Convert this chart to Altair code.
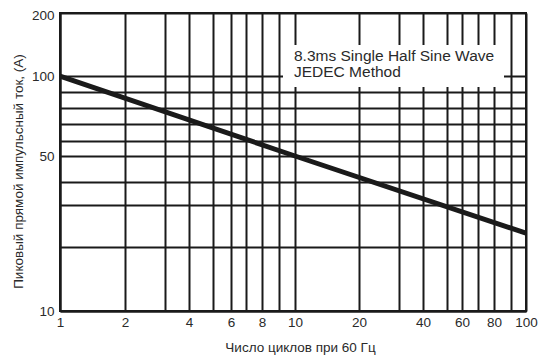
import altair as alt
import pandas as pd

# Data
cycles = [1, 10, 100]
current = [100, 50, 23.3]

# Chart's drawn (non-uniform) scale breakpoints
x_ticks = [1, 2, 3, 4, 5, 6, 7, 8, 9, 10, 20, 30, 40, 50, 60, 70, 80, 90, 100]
x_pos = [0, 65, 105, 129, 153, 171, 186, 202, 219, 235, 299, 339, 363, 387, 402, 418, 434, 451, 466]
x_labels = [1, 2, 4, 6, 8, 10, 20, 40, 60, 80, 100]

y_ticks = [10, 20, 30, 40, 50, 60, 70, 80, 90, 100, 200]
y_pos = [298, 234, 192, 169, 143, 128, 111, 95, 79, 63, 0]
y_labels = [10, 50, 100, 200]

note = ["8.3ms Single Half Sine Wave", "JEDEC Method"]

df = pd.DataFrame({"cycles": cycles, "current": current})
one = pd.DataFrame({"k": [0]})

FONT = "Liberation Sans"
INK = "#1a1a1a"
TXT = "#2a2a2a"
FS = 13.5

x_enc = alt.X(
    "cycles:Q",
    scale=alt.Scale(type="linear", domain=x_ticks, range=x_pos, zero=False, nice=False),
    axis=alt.Axis(
        values=x_ticks,
        labelExpr="indexof(%s, datum.value) >= 0 ? datum.label : ''" % str(x_labels),
        labelOverlap=False,
        labelFlush=False,
        ticks=False,
        labelPadding=4,
        labelFontSize=FS,
        labelColor=TXT,
        labelFont=FONT,
        grid=True,
        gridColor=INK,
        gridWidth=2,
        gridOpacity=1,
        domainColor=INK,
        domainWidth=2,
        title="Число циклов при 60 Гц",
        titleFont=FONT,
        titleFontSize=FS,
        titleFontWeight="normal",
        titleColor=TXT,
        titleX=240,
        titleY=36,
        titleBaseline="middle",
        titleAlign="center",
    ),
)

y_enc = alt.Y(
    "current:Q",
    scale=alt.Scale(type="linear", domain=y_ticks, range=y_pos, zero=False, nice=False),
    axis=alt.Axis(
        values=y_ticks,
        labelExpr="indexof(%s, datum.value) >= 0 ? datum.label : ''" % str(y_labels),
        labelOverlap=False,
        labelFlush=False,
        labelOffset={"condition": {"test": "datum.value == 200", "value": 2}, "value": 0},
        ticks=False,
        labelPadding=6,
        labelFontSize=FS,
        labelColor=TXT,
        labelFont=FONT,
        grid=True,
        gridColor=INK,
        gridWidth=2,
        gridOpacity=1,
        domainColor=INK,
        domainWidth=2,
        title="Пиковый прямой импульсный ток, (А)",
        titleFont=FONT,
        titleFontSize=FS,
        titleFontWeight="normal",
        titleColor=TXT,
        titleAngle=270,
        titleX=-42,
        titleY=158,
        titleBaseline="middle",
        titleAlign="center",
    ),
)

line = alt.Chart(df).mark_line(color=INK, strokeWidth=5, clip=True).encode(x=x_enc, y=y_enc)

box = alt.Chart(one).mark_rect(color="white", opacity=1).encode(
    x=alt.value(223), x2=alt.value(444), y=alt.value(32), y2=alt.value(74)
)

label = alt.Chart(one).mark_text(
    text=note, align="left", baseline="alphabetic", font=FONT, fontSize=15.5,
    fontWeight="normal", lineHeight=16, color=TXT
).encode(x=alt.value(234), y=alt.value(48))

chart = alt.layer(line, box, label).properties(
    width=466,
    height=298,
    autosize=alt.AutoSizeParams(type="none"),
    padding={"left": 52, "top": 5, "right": 12, "bottom": 45},
    background="white",
).configure_view(stroke=INK, strokeWidth=2)

chart.save("out.html", embed_options={"renderer": "svg", "actions": False})
